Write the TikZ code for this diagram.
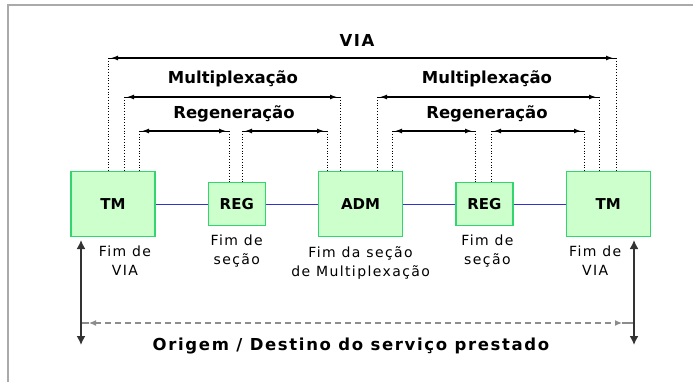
\documentclass[tikz,border=0pt]{standalone}
\usepackage{fontspec}
\setmainfont{DejaVu Sans}
\newfontfamily\spacedfont[LetterSpace=10]{DejaVu Sans}
\usetikzlibrary{positioning,arrows.meta}
\definecolor{boxfill}{RGB}{204,255,204}
\definecolor{boxline}{RGB}{51,214,110}
\definecolor{linkblue}{RGB}{51,51,204}
\definecolor{framegray}{RGB}{170,170,170}
\definecolor{dashgray}{RGB}{140,140,140}
\tikzset{
	bigbox/.style = {draw=boxline, fill=boxfill, line width=1.3pt, inner sep=0pt,
		minimum width=84pt, minimum height=65pt, font=\fontsize{15}{16}\selectfont\bfseries},
	smallbox/.style = {bigbox, minimum width=57pt, minimum height=43pt},
	link/.style = {draw=linkblue, line width=0.8pt},
	guide/.style = {dotted, line width=0.8pt},
	span/.style = {line width=1.2pt, shorten <=3pt, shorten >=3pt,
		preaction={draw, arrows=-, shorten <=0pt, shorten >=0pt},
		{Latex[length=7pt,width=5pt]}-{Latex[length=7pt,width=5pt]}},
	head/.style = {font=\fontsize{16.5}{18}\selectfont\bfseries},
	widehead/.style = {font=\spacedfont\fontsize{16.5}{18}\selectfont\bfseries},
	fim/.style = {font=\spacedfont\fontsize{14}{19}\selectfont, align=center, inner sep=0pt},
	endarrow/.style = {black!80, line width=1.6pt, {Latex[length=9pt,width=9pt]}-{Latex[length=9pt,width=9pt]}},
	stub/.style = {dashgray, line width=1.2pt},
	service/.style = {stub, dash pattern=on 6pt off 4pt, shorten <=8pt, shorten >=12pt,
		{Latex[length=7pt,width=6pt]}-{Latex[length=7pt,width=6pt]}}
}

\begin{document}
\begin{tikzpicture}[x=1pt, y=-1pt]
	\useasboundingbox (0,0) rectangle (693,382);
	\draw[framegray, line width=1.5pt] (8,382) -- (8,5) -- (693,5);

	% equipamentos
	\node (tmA) [bigbox] at (113,204) {TM};
	\node (regA) [smallbox, right=52pt of tmA] {REG};
	\node (adm) [bigbox, right=52pt of regA] {ADM};
	\node (regB) [smallbox, right=52pt of adm] {REG};
	\node (tmB) [bigbox, right=52pt of regB] {TM};
	\draw[link] (tmA) -- (regA);
	\draw[link] (regA) -- (adm);
	\draw[link] (adm) -- (regB);
	\draw[link] (regB) -- (tmB);

	\node (fimA) [fim, below=9pt of tmA, xshift=12pt] {Fim de\\VIA};
	\node (fimB) [fim, below=9pt of regA] {Fim de\\seção};
	\node (fimC) [fim, below=9pt of adm] {Fim da seção\\de Multiplexação};
	\node (fimD) [fim, below=9pt of regB, xshift=3pt] {Fim de\\seção};
	\node (fimE) [fim, below=9pt of tmB, xshift=-13pt] {Fim de\\VIA};

	% trechos
	\coordinate (viaL) at (108,58);
	\coordinate (viaR) at (616,58);
	\coordinate (muxAL) at (124,97);
	\coordinate (muxAR) at (340,97);
	\coordinate (muxBL) at (377,97);
	\coordinate (muxBR) at (599,97);
	\coordinate (regAL) at (139,131);
	\coordinate (regAR) at (229,131);
	\coordinate (regBL) at (242,131);
	\coordinate (regBR) at (327,131);
	\coordinate (regCL) at (392,131);
	\coordinate (regCR) at (475,131);
	\coordinate (regDL) at (491,131);
	\coordinate (regDR) at (584,131);

	\foreach \c/\b in {viaL/tmA, muxAL/tmA, regAL/tmA, regAR/regA, regBL/regA,
		regBR/adm, muxAR/adm, muxBL/adm, regCL/adm, regCR/regB, regDL/regB,
		regDR/tmB, muxBR/tmB, viaR/tmB}
		\draw[guide] (\c) -- (\c |- \b.north);

	\draw[span] (viaL) -- (viaR);
	\draw[span] (muxAL) -- (muxAR);
	\draw[span] (muxBL) -- (muxBR);
	\draw[span] (regAL) -- (regAR);
	\draw[span] (regBL) -- (regBR);
	\draw[span] (regCL) -- (regCR);
	\draw[span] (regDL) -- (regDR);

	\node (via) [widehead] at (357,40) {VIA};
	\node (muxA) [head] at (233,79) {Multiplexação};
	\node (muxB) [head] at (487,79) {Multiplexação};
	\node (regenA) [head] at (234,114) {Regeneração};
	\node (regenB) [head] at (487,114) {Regeneração};

	% origem / destino
	\coordinate (srcA) at (81,240);
	\coordinate (dstA) at (81,345);
	\coordinate (srcB) at (634,240);
	\coordinate (dstB) at (634,345);
	\coordinate (dashA) at (81,323);
	\coordinate (dashB) at (634,323);
	\draw[service] (dashA) -- (dashB);
	\draw[stub] (dashA) -- ([xshift=8pt]dashA);
	\draw[stub] (dashB) -- ([xshift=-12pt]dashB);
	\draw[endarrow] (srcA) -- (dstA);
	\draw[endarrow] (srcB) -- (dstB);
	\node (origem) [widehead] at (351,346) {Origem / Destino do serviço prestado};
\end{tikzpicture}
\end{document}
